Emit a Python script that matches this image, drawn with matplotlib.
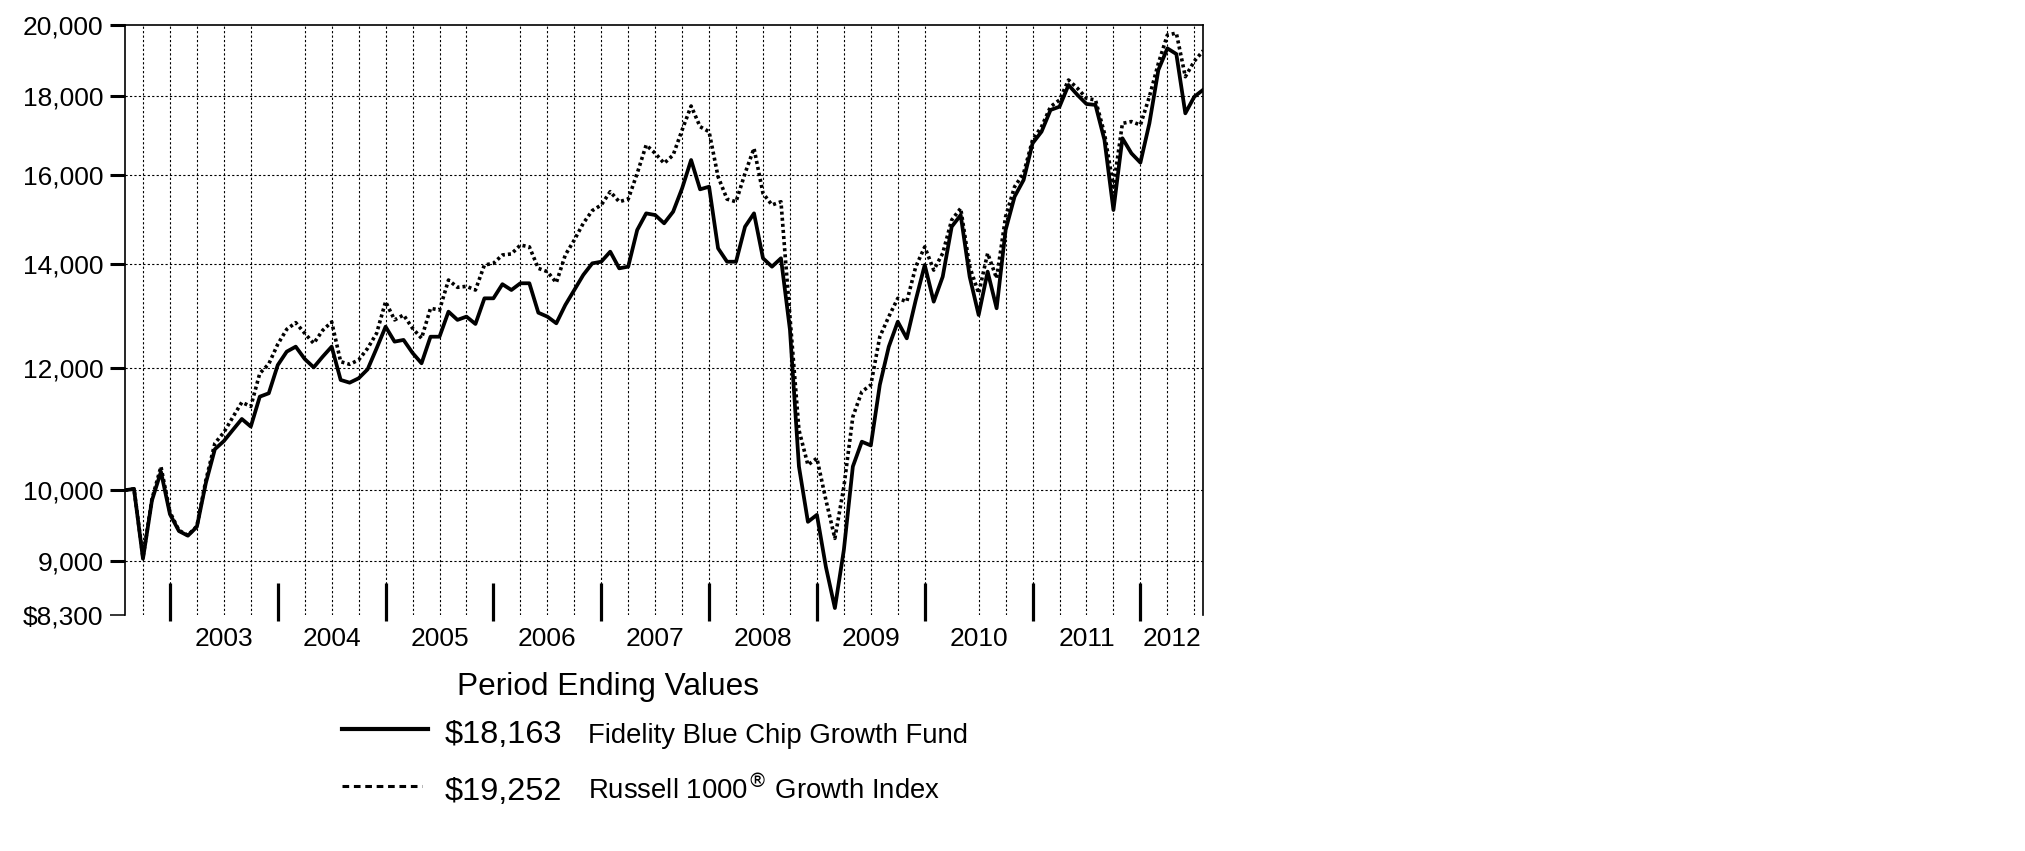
import numpy as np
import pandas as pd
import matplotlib
matplotlib.use("Agg")
import matplotlib.pyplot as plt
from matplotlib.lines import Line2D
from matplotlib.ticker import NullLocator, NullFormatter

plt.rcParams['font.family'] = ['Liberation Sans', 'DejaVu Sans']
plt.rcParams['lines.scale_dashes'] = False

# ---- data -------------------------------------------------------------
months = pd.period_range('2002-07', '2012-07', freq='M')

fund = [10000, 10020, 9030, 9850, 10280, 9650, 9410, 9345, 9470, 10110,
        10630, 10760, 10940, 11120, 10995, 11496, 11554, 12050, 12294, 12385,
        12160, 12009, 12202, 12385, 11786, 11738, 11815, 11974, 12354, 12759,
        12478, 12510, 12270, 12082, 12570, 12570, 13048, 12889, 12952, 12811,
        13310, 13310, 13593, 13476, 13612, 13612, 13028, 12952, 12824, 13178,
        13476, 13782, 14022, 14056, 14268, 13918, 13953, 14736, 15106, 15068,
        14884, 15144, 15680, 16356, 15657, 15718, 14340, 14056, 14056, 14808,
        15106, 14128, 13953, 14128, 12700, 10360, 9540, 9640, 8920, 8390,
        9150, 10360, 10750, 10690, 11700, 12385, 12854, 12540, 13276, 13988,
        13244, 13746, 14808, 15068, 13746, 12984, 13850, 13114, 14736, 15488,
        15876, 16768, 17062, 17622, 17708, 18290, 18020, 17780, 17754, 16852,
        15182, 16894, 16520, 16292, 17274, 18704, 19316, 19154, 17534, 17974,
        18163]

index = [10000, 10020, 9050, 9870, 10358, 9680, 9420, 9350, 9480, 10150,
         10724, 10900, 11150, 11400, 11330, 11902, 12070, 12430, 12710, 12836,
         12634, 12446, 12690, 12850, 12111, 12064, 12142, 12354, 12634, 13244,
         12889, 12984, 12729, 12540, 13114, 13080, 13678, 13530, 13550, 13476,
         13988, 14022, 14198, 14220, 14410, 14370, 13918, 13850, 13624, 14198,
         14518, 14884, 15168, 15296, 15602, 15370, 15430, 16034, 16726, 16520,
         16276, 16478, 17104, 17726, 17188, 17060, 15954, 15430, 15370, 16034,
         16644, 15564, 15296, 15370, 12950, 10940, 10384, 10488, 9856, 9308,
         10050, 11158, 11582, 11699, 12570, 12952, 13310, 13244, 13953, 14370,
         13882, 14234, 14958, 15220, 13953, 13410, 14234, 13712, 15032, 15718,
         16034, 16852, 17188, 17708, 17886, 18426, 18200, 17930, 17886, 17020,
         15718, 17274, 17320, 17232, 17974, 18890, 19704, 19760, 18518, 18950,
         19252]

fund_label = 'Fidelity Blue Chip Growth Fund'
index_label = 'Russell 1000$^{\\circledR}$ Growth Index'
fund_end = '$18,163'
index_end = '$19,252'
legend_title = 'Period Ending Values'

y_ticks = [8300, 9000, 10000, 12000, 14000, 16000, 18000, 20000]
y_tick_labels = ['$8,300', '9,000', '10,000', '12,000', '14,000',
                 '16,000', '18,000', '20,000']
y_grid = [9000, 10000, 12000, 14000, 16000, 18000]
year_labels = ['2003', '2004', '2005', '2006', '2007', '2008',
               '2009', '2010', '2011', '2012']

# ---- layout -----------------------------------------------------------
W, H = 2025, 851
fig = plt.figure(figsize=(W / 100, H / 100), dpi=100)
L, R, T, B = 125, 1203.3, 25, 615.3
ax = fig.add_axes([L / W, 1 - B / H, (R - L) / W, (B - T) / H])

x = np.arange(len(months))
mon = np.array([p.month for p in months])
dec_idx = x[mon == 12]
quarter_idx = x[np.isin(mon, [3, 6, 9, 12])]
skip = {'2003-12', '2005-12', '2010-03'}
grid_idx = [i for i in quarter_idx if str(months[i]) not in skip]

ax.set_yscale('log')
ax.set_xlim(0, len(months) - 1)
ax.set_ylim(8300, 20000)

# grid
ax.vlines(grid_idx, 0, 1, transform=ax.get_xaxis_transform(),
          colors='black', linewidth=0.8, linestyles=[(0, (1.6, 1.6))], zorder=1)
ax.hlines(y_grid, 0, len(months) - 1, colors='black', linewidth=0.8,
          linestyles=[(0, (1.6, 1.6))], zorder=1)

# series
ax.plot(x, index, color='black', linewidth=2.6, linestyle=(0, (2.2, 2.2)), zorder=3)
ax.plot(x, fund, color='black', linewidth=2.7, zorder=4)

# y axis
ax.yaxis.set_minor_locator(NullLocator())
ax.yaxis.set_minor_formatter(NullFormatter())
ax.set_yticks(y_ticks)
ax.set_yticklabels(y_tick_labels)
ax.tick_params(axis='y', which='major', length=10.8, width=2.2, pad=4.8,
               labelsize=19, color='black')
ax.yaxis.get_major_ticks()[0].tick1line.set_markeredgewidth(1.1)

# x axis: year boundary ticks + centered year labels
ax.set_xticks([])
ends = list(dec_idx) + [len(months) - 1]
mids = [(ends[k] + ends[k + 1]) / 2 for k in range(len(ends) - 1)]
ax.set_xticks(mids, minor=True)
ax.set_xticklabels(year_labels, minor=True)
ax.tick_params(axis='x', which='minor', length=0, pad=8.2, labelsize=19)
ax.vlines(dec_idx, -5.4 / (B - T), 32.6 / (B - T), transform=ax.get_xaxis_transform(),
          colors='black', linewidth=2.3, clip_on=False, zorder=5)

for s in ['left', 'top', 'right']:
    ax.spines[s].set_linewidth(1.2)
ax.spines['bottom'].set_visible(False)

# ---- legend ----------------------------------------------------------
def fy(py):
    return 1 - py / H

fig.text(608 / W, fy(695), legend_title, ha='center', va='baseline', fontsize=22.8)
fig.add_artist(Line2D([341.7 / W, 428.3 / W], [fy(729)] * 2, transform=fig.transFigure,
                      color='black', linewidth=3))
fig.text(445 / W, fy(743.3), fund_end, ha='left', va='baseline', fontsize=23.4)
fig.text(588 / W, fy(743.3), fund_label, ha='left', va='baseline', fontsize=19.8)
fig.add_artist(Line2D([341.7 / W, 421.7 / W], [fy(786)] * 2, transform=fig.transFigure,
                      color='black', linewidth=2.2, linestyle=(0, (4.8, 3.4))))
fig.text(445 / W, fy(800), index_end, ha='left', va='baseline', fontsize=23.4)
fig.text(588 / W, fy(800), index_label, ha='left', va='baseline', fontsize=19.8)

fig.savefig('out.png', dpi=100, facecolor='white')
